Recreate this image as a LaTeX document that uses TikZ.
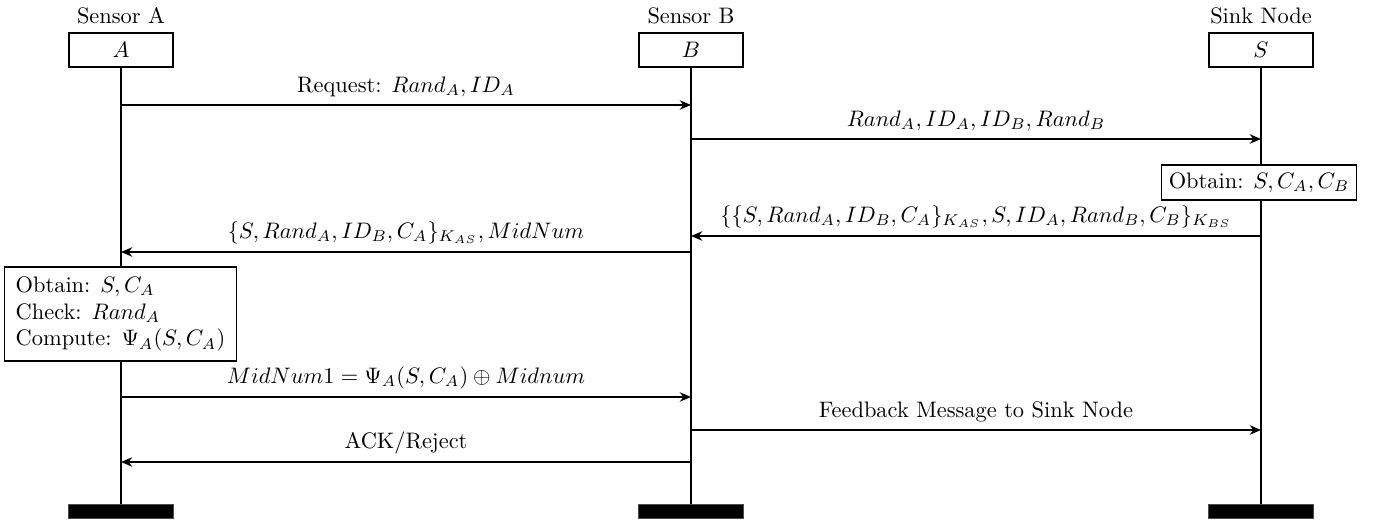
\documentclass[tikz,border=0pt]{standalone}
\usetikzlibrary{arrows.meta}
\begin{document}
\begin{tikzpicture}[x=0.4464pt,y=-0.4464pt,
  every path/.style={line width=0.7pt},
  inst/.style={draw,line width=0.7pt,minimum width=46.4pt,minimum height=15.4pt,inner sep=0pt},
  title/.style={inner sep=0pt},
  bar/.style={fill=black,draw=black!70,line width=0.3pt,minimum width=46.9pt,minimum height=6.3pt,inner sep=0pt},
  act/.style={draw,fill=white,line width=0.7pt},
  msg/.style={-{Stealth[length=5pt,width=4.2pt,inset=1.6pt]},line width=0.7pt},
  lbl/.style={midway,above}]
\useasboundingbox (0,0) rectangle (1385,521);
% titles
\node[title] (tA) at (121,16) {Sensor A};
\node[title] (tB) at (691,16) {Sensor B};
\node[title] (tS) at (1261,16) {Sink Node};
% instances
\node[inst] (A) at (121,50) {$A$};
\node[inst] (B) at (691,50) {$B$};
\node[inst] (S) at (1261,50) {$S$};
% end bars
\node[bar] (Ae) at (121,511) {};
\node[bar] (Be) at (691,511) {};
\node[bar] (Se) at (1261,511) {};
% lifelines
\draw (A.south) -- (Ae.north);
\draw (B.south) -- (Be.north);
\draw (S.south) -- (Se.north);
% message points
\coordinate (a1) at (121,105); \coordinate (b1) at (691,105);
\coordinate (b2) at (691,139); \coordinate (s2) at (1261,139);
\coordinate (s3) at (1261,236); \coordinate (b3) at (691,236);
\coordinate (b4) at (691,252); \coordinate (a4) at (121,252);
\coordinate (a5) at (121,397); \coordinate (b5) at (691,397);
\coordinate (b6) at (691,430); \coordinate (s6) at (1261,430);
\coordinate (b7) at (691,462); \coordinate (a7) at (121,462);
% messages
\draw[msg] (a1) -- (b1) node[lbl] {Request: $Rand_A, ID_A$};
\draw[msg] (b2) -- (s2) node[lbl] {$Rand_A, ID_A, ID_B, Rand_B$};
\node[act] (ob) at (1259,182.5) {Obtain: $S, C_A, C_B$};
\draw[msg] (s3) -- (b3) node[lbl] {$\{\{S, Rand_A, ID_B, C_A\}_{K_{AS}}, S, ID_A, Rand_B, C_B\}_{K_{BS}}$};
\draw[msg] (b4) -- (a4) node[lbl] {$\{S, Rand_A, ID_B, C_A\}_{K_{AS}}, MidNum$};
\node[act,align=left,inner xsep=5pt,inner ysep=4.2pt] (chk) at (120.5,314) {Obtain: $S, C_A$\\Check: $Rand_A$\\Compute: $\Psi_A(S, C_A)$};
\draw[msg] (a5) -- (b5) node[lbl] {$MidNum1 = \Psi_A(S, C_A) \oplus Midnum$};
\draw[msg] (b6) -- (s6) node[lbl] {Feedback Message to Sink Node};
\draw[msg] (b7) -- (a7) node[lbl] {ACK/Reject};
\end{tikzpicture}
\end{document}
